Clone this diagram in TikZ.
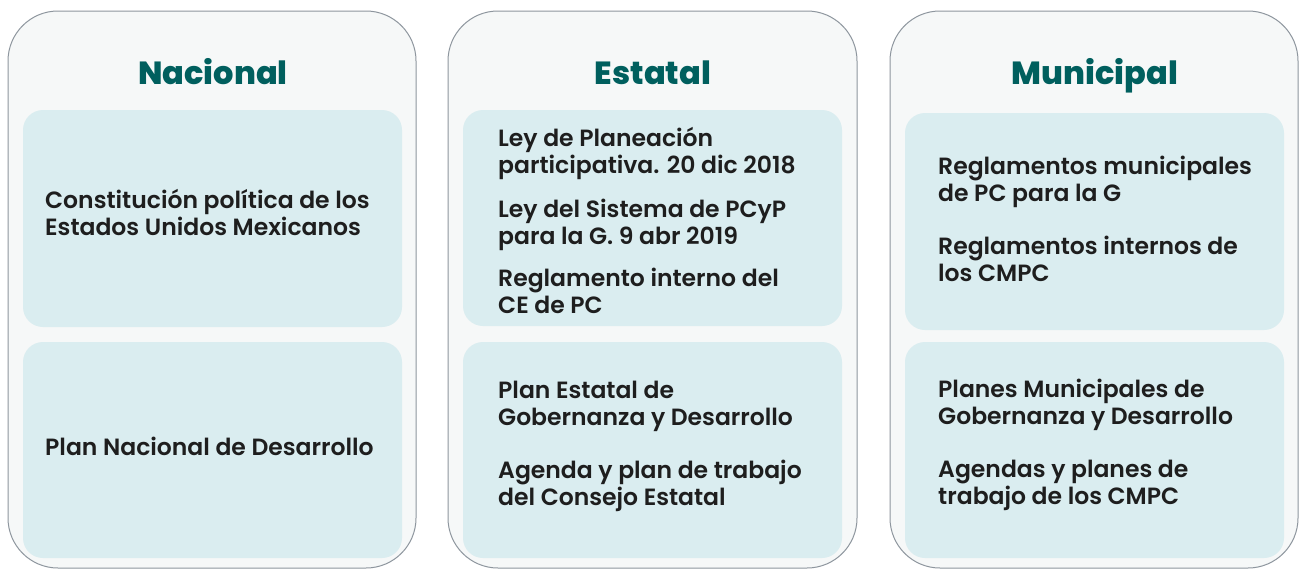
\documentclass[tikz,border=0pt]{standalone}
\usepackage{fontspec}
\setmainfont{Poppins}[UprightFont=* SemiBold, BoldFont=* ExtraBold]
\definecolor{panelfill}{HTML}{F6F8F8}
\definecolor{panelline}{HTML}{8E969E}
\definecolor{boxfill}{HTML}{DAEDF0}
\definecolor{titlecol}{HTML}{005F5E}
\definecolor{textcol}{HTML}{1E1E1E}
\begin{document}
\begin{tikzpicture}[x=1pt,y=-1pt,
  panel/.style={draw=panelline, line width=1pt, fill=panelfill, rounded corners=50pt},
  inbox/.style={fill=boxfill, rounded corners=20pt},
  ttl/.style={font=\fontsize{32}{36}\selectfont\bfseries, text=titlecol, anchor=base, inner sep=0pt},
  txt/.style={font=\fontsize{23.5}{28}\selectfont, text=textcol, anchor=base west, inner sep=0pt}]
\useasboundingbox (0,0) rectangle (1299,570);
\fill[white] (0,0) rectangle (1299,570);
% panels
\draw[panel] (8,11) rectangle (416,568);
\draw[panel] (448,11) rectangle (857,568);
\draw[panel] (890,11) rectangle (1298,568);
% inner boxes
\fill[inbox] (23,110) rectangle (402,327);
\fill[inbox] (23,342) rectangle (402,558);
\fill[inbox] (463,110) rectangle (842,326);
\fill[inbox] (463,342) rectangle (842,558);
\fill[inbox] (905,113) rectangle (1284,330);
\fill[inbox] (905,342) rectangle (1284,558);
% titles
\node[ttl] (tn) at (213,84) {Nacional};
\node[ttl] (te) at (653,84) {Estatal};
\node[ttl] (tm) at (1095,84) {Municipal};
% nacional
\node[txt] (n1a) at (45,208) {Constitución política de los};
\node[txt] (n1b) at (45,235) {Estados Unidos Mexicanos};
\node[txt] (n2a) at (45,455) {Plan Nacional de Desarrollo};
% estatal
\node[txt] (e1a) at (498,146) {Ley de Planeación};
\node[txt] (e1b) at (498,173) {participativa. 20 dic 2018};
\node[txt] (e2a) at (498,217) {Ley del Sistema de PCyP};
\node[txt] (e2b) at (498,244) {para la G. 9 abr 2019};
\node[txt] (e3a) at (498,286) {Reglamento interno del};
\node[txt] (e3b) at (498,313) {CE de PC};
\node[txt] (e4a) at (498,398) {Plan Estatal de};
\node[txt] (e4b) at (498,425) {Gobernanza y Desarrollo};
\node[txt] (e5a) at (498,478) {Agenda y plan de trabajo};
\node[txt] (e5b) at (498,505) {del Consejo Estatal};
% municipal
\node[txt] (m1a) at (938,174) {Reglamentos municipales};
\node[txt] (m1b) at (938,201) {de PC para la G};
\node[txt] (m2a) at (938,254) {Reglamentos internos de};
\node[txt] (m2b) at (938,281) {los CMPC};
\node[txt] (m3a) at (938,397) {Planes Municipales de};
\node[txt] (m3b) at (938,424) {Gobernanza y Desarrollo};
\node[txt] (m4a) at (938,477) {Agendas y planes de};
\node[txt] (m4b) at (938,504) {trabajo de los CMPC};
\end{tikzpicture}
\end{document}
